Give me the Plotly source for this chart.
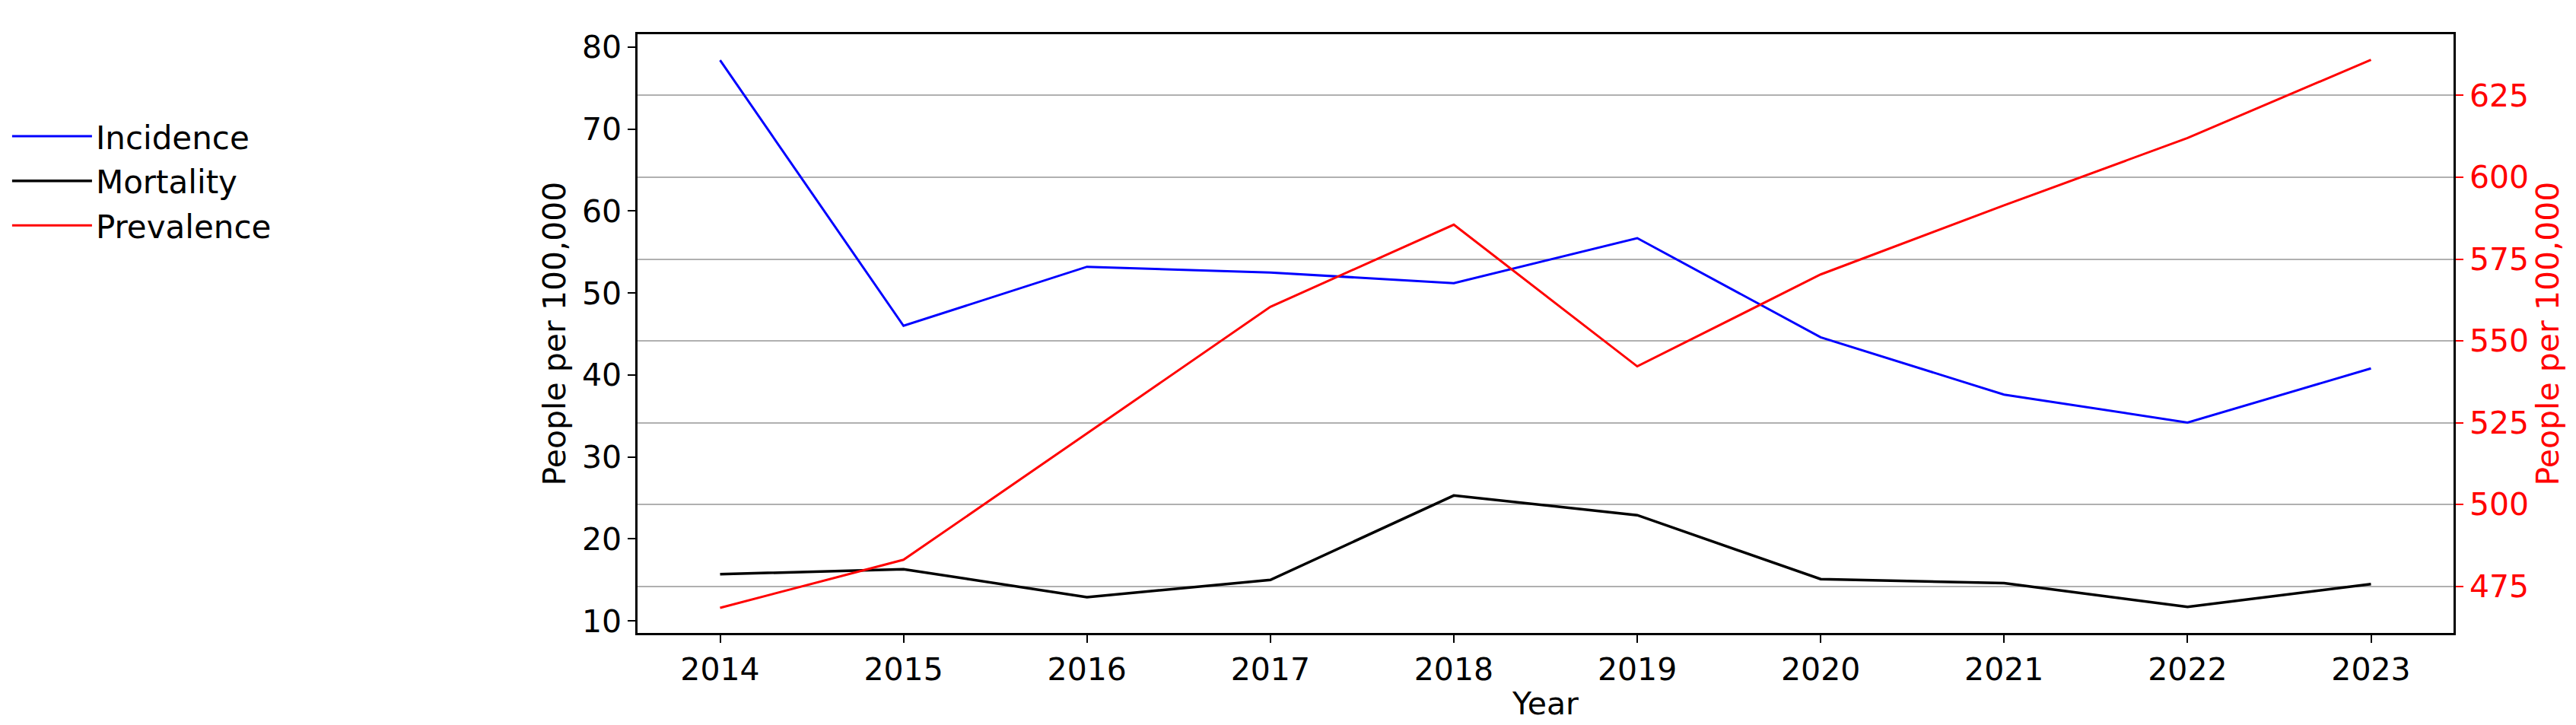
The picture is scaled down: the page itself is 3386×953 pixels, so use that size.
import plotly.graph_objects as go

years = [2014, 2015, 2016, 2017, 2018, 2019, 2020, 2021, 2022, 2023]
incidence = [78.4, 46.0, 53.2, 52.5, 51.2, 56.7, 44.6, 37.6, 34.2, 40.8]
mortality = [15.7, 16.3, 12.9, 15.0, 25.3, 22.9, 15.1, 14.6, 11.7, 14.5]
prevalence = [468.4, 483.1, 521.7, 560.4, 585.5, 542.2, 570.3, 591.4, 612.0, 635.9]

left_ticks = [10, 20, 30, 40, 50, 60, 70, 80]
right_ticks = [475, 500, 525, 550, 575, 600, 625]

FONT = "DejaVu Sans"
FS = 41

fig = go.Figure()
fig.add_trace(go.Scatter(x=years, y=incidence, name="Incidence", mode="lines",
                         line=dict(color="#0000ff", width=3), legendgroup="a"))
fig.add_trace(go.Scatter(x=years, y=mortality, name="Mortality", mode="lines",
                         line=dict(color="#000000", width=3.5), legendgroup="b"))
fig.add_trace(go.Scatter(x=years, y=prevalence, name="Prevalence", mode="lines",
                         line=dict(color="#ff0000", width=3), yaxis="y2", legendgroup="c"))

fig.update_layout(
    width=3386, height=953,
    margin=dict(l=838, r=161, t=45, b=121, autoexpand=False),
    paper_bgcolor="white", plot_bgcolor="white",
    font=dict(family=FONT, size=FS, color="black"),
    showlegend=True,
    legend=dict(x=-0.3465, xanchor="left", y=0.755, yanchor="middle",
                font=dict(family=FONT, size=42, color="black"),
                bgcolor="rgba(0,0,0,0)", itemwidth=105, tracegroupgap=1),
    xaxis=dict(range=[2013.55, 2023.45], tickmode="array", tickvals=years,
               ticktext=[str(y) for y in years], automargin=False,
               showgrid=False, zeroline=False,
               showline=True, linecolor="black", linewidth=2.5, mirror=True,
               ticks="outside", ticklen=10, tickwidth=2, tickcolor="black",
               tickfont=dict(family=FONT, size=FS, color="black"),
               title=dict(text="Year", font=dict(family=FONT, size=FS, color="black"), standoff=8)),
    yaxis=dict(range=[8.53, 81.57], tickmode="array", tickvals=left_ticks,
               automargin=False,
               showgrid=False, zeroline=False,
               showline=True, linecolor="black", linewidth=2.5,
               ticks="outside", ticklen=10, tickwidth=2, tickcolor="black",
               tickfont=dict(family=FONT, size=FS, color="black"),
               title=dict(text="People per 100,000", font=dict(family=FONT, size=FS, color="black"), standoff=9)),
    yaxis2=dict(range=[460.74, 643.7], tickmode="array", tickvals=right_ticks,
                overlaying="y", side="right", automargin=False,
                showgrid=True, gridcolor="#b0b0b0", gridwidth=2, zeroline=False,
                showline=True, linecolor="black", linewidth=2.5,
                ticks="outside", ticklen=10, tickwidth=2, tickcolor="#ff0000",
                tickfont=dict(family=FONT, size=FS, color="#ff0000"),
                title=dict(text="People per 100,000", font=dict(family=FONT, size=FS, color="#ff0000"), standoff=12)),
)

fig.write_html("out.html", config={"displayModeBar": False},
               post_script="document.body.style.margin='0';")
